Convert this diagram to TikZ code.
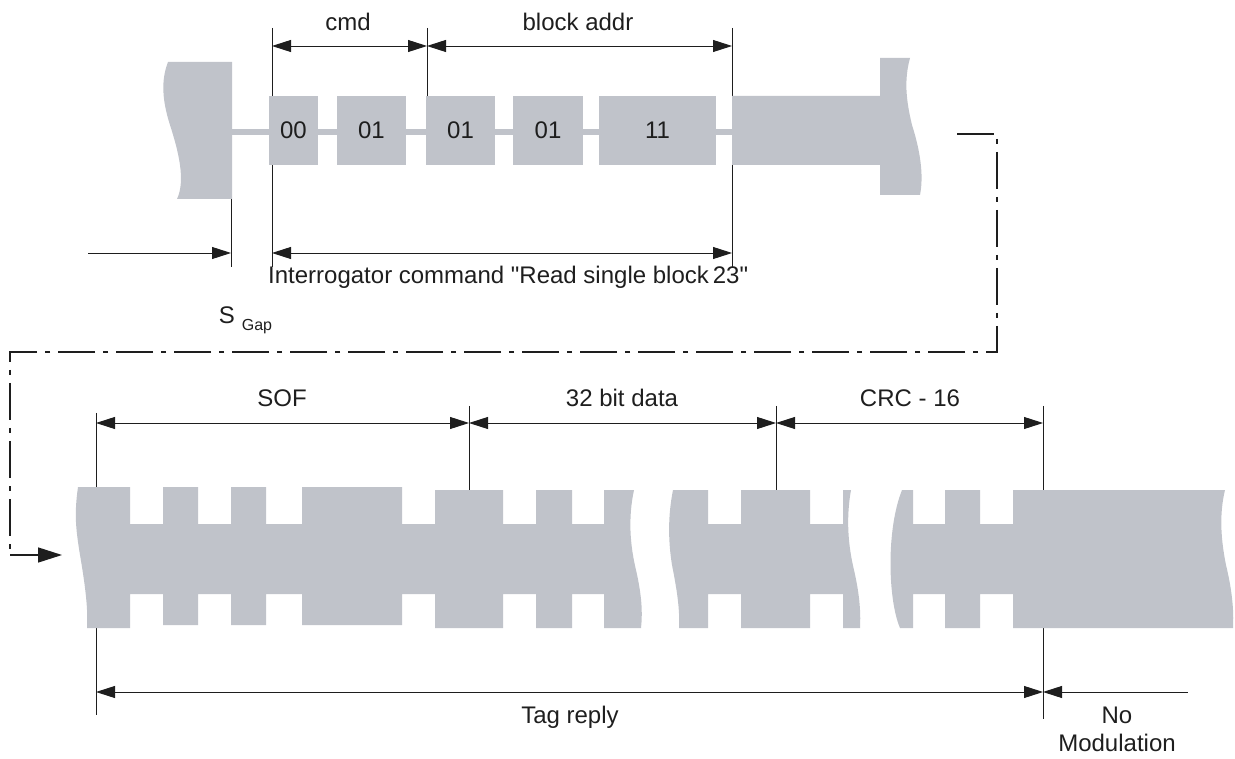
\documentclass[tikz,border=0pt]{standalone}
\usepackage{fontspec}
\setmainfont{Liberation Sans}[Ligatures=TeXOff]
\usetikzlibrary{arrows.meta}
\definecolor{sig}{RGB}{192,195,202}
\definecolor{ink}{RGB}{30,30,30}
\tikzset{
  tip/.tip={Triangle[length=19pt,width=12pt]},
  dimline/.style={line width=0.9pt, draw=ink},
  dimboth/.style={dimline, tip-tip},
  dimright/.style={dimline, -tip},
  dimleft/.style={dimline, tip-},
  flowline/.style={line width=1.5pt, draw=ink, dash pattern=on 37pt off 8pt on 5pt off 8pt},
  lbl/.style={font=\fontsize{24}{28}\selectfont, text=ink, inner sep=0pt},
  sublbl/.style={font=\fontsize{16}{19}\selectfont, text=ink, inner sep=0pt},
  bitbox/.style={fill=sig, draw=none, inner sep=0pt, font=\fontsize{24}{28}\selectfont, text=ink},
  sigfill/.style={fill=sig, draw=none}
}
\begin{document}
\begin{tikzpicture}[x=1pt,y=-1pt]
\useasboundingbox (0,0) rectangle (1235,759);

% ---------- coordinates for dimension lines (top) ----------
\coordinate (t1a) at (272,28);  \coordinate (t1b) at (272,267);
\coordinate (t2a) at (427,28);  \coordinate (t2b) at (427,96);
\coordinate (t3a) at (732,28);  \coordinate (t3b) at (732,267);
\coordinate (tga) at (231,199); \coordinate (tgb) at (231,267);
\coordinate (d1) at (272,46); \coordinate (d2) at (427,46); \coordinate (d3) at (732,46);
\coordinate (i1) at (272,253); \coordinate (i2) at (732,253);
\coordinate (g0) at (88,253); \coordinate (g1) at (231,253);

% ticks
\draw[dimline] (t1a) -- (t1b);
\draw[dimline] (t2a) -- (t2b);
\draw[dimline] (t3a) -- (t3b);
\draw[dimline] (tga) -- (tgb);

% arrows
\draw[dimboth] (d1) -- (d2);
\draw[dimboth] (d2) -- (d3);
\draw[dimboth] (i1) -- (i2);
\draw[dimright] (g0) -- (g1);

% labels
\node[lbl] (cmd) at (348,22) {cmd};
\node[lbl] (addr) at (578,22) {block addr};
\node[lbl, anchor=west] (ic) at (268,277) {Interrogator command "Read single block\,23"};
\node[lbl] (s) at (227,315) {S};
\node[sublbl] (gap) at (257,327) {Gap};

% ---------- top signal ----------
\fill[sigfill] (168,62) -- (232,62) -- (232,199) -- (177,199)
  .. controls (186,180) and (178,150) .. (170,125)
  .. controls (162,100) and (161,80) .. (168,62) -- cycle;
\fill[sigfill] (232,129) rectangle (732,135);
\node[bitbox, minimum width=49pt, minimum height=69pt] (b1) at (293.5,130.5) {00};
\node[bitbox, minimum width=69pt, minimum height=69pt] (b2) at (371.5,130.5) {01};
\node[bitbox, minimum width=69pt, minimum height=69pt] (b3) at (460.5,130.5) {01};
\node[bitbox, minimum width=70pt, minimum height=69pt] (b4) at (548,130.5) {01};
\node[bitbox, minimum width=117pt, minimum height=69pt] (b5) at (657.5,130.5) {11};
\fill[sigfill] (732,96) -- (880,96) -- (880,58) -- (910,58)
  .. controls (904,80) and (906,100) .. (912,125)
  .. controls (920,150) and (924,175) .. (920,195)
  -- (880,195) -- (880,165) -- (732,165) -- cycle;

% ---------- dash-dot flow ----------
\coordinate (f0) at (957,134);
\coordinate (f1) at (997,134);
\coordinate (f2) at (997,352);
\coordinate (f3) at (10,352);
\coordinate (f4) at (10,555);
\coordinate (f5) at (62,555);
\draw[flowline] (f0) -- (f1) -- (f2) -- (f3) -- (f4);
\draw[line width=1.5pt, draw=ink, -{Triangle[length=24pt,width=15pt]}] (f4) -- (f5);

% ---------- bottom dimension lines ----------
\coordinate (u1a) at (96,413);  \coordinate (u1b) at (96,715);
\coordinate (u2a) at (469,406); \coordinate (u2b) at (469,491);
\coordinate (u3a) at (776,406); \coordinate (u3b) at (776,491);
\coordinate (u4a) at (1043,406); \coordinate (u4b) at (1043,719);
\coordinate (e1) at (96,423); \coordinate (e2) at (469,423);
\coordinate (e3) at (776,423); \coordinate (e4) at (1043,423);
\coordinate (r1) at (96,692); \coordinate (r2) at (1043,692); \coordinate (r3) at (1188,692);

\draw[dimline] (u1a) -- (u1b);
\draw[dimline] (u2a) -- (u2b);
\draw[dimline] (u3a) -- (u3b);
\draw[dimline] (u4a) -- (u4b);
\draw[dimboth] (e1) -- (e2);
\draw[dimboth] (e2) -- (e3);
\draw[dimboth] (e3) -- (e4);
\draw[dimboth] (r1) -- (r2);
\draw[dimleft] (r2) -- (r3);

\node[lbl] (sof) at (282,398) {SOF};
\node[lbl] (data) at (622,398) {32 bit data};
\node[lbl] (crc) at (910,398) {CRC - 16};
\node[lbl] (tag) at (570,717) {Tag reply};
\node[lbl] (no) at (1117,715) {No};
\node[lbl] (mod) at (1117,743) {Modulation};

% ---------- bottom signal ----------
\fill[sigfill] (78,487) -- (130,487) -- (130,524) -- (163,524) -- (163,487) -- (198,487)
  -- (198,524) -- (231,524) -- (231,487) -- (266,487) -- (266,524) -- (302,524)
  -- (302,487) -- (402,487) -- (402,524) -- (435,524) -- (435,490) -- (503,490)
  -- (503,524) -- (536,524) -- (536,490) -- (572,490) -- (572,524) -- (604,524)
  -- (604,490) -- (634,490)
  .. controls (628,518) and (630,545) .. (636,570)
  .. controls (641,592) and (643,610) .. (641,628)
  -- (604,628) -- (604,594) -- (572,594) -- (572,628) -- (536,628) -- (536,594)
  -- (503,594) -- (503,628) -- (435,628) -- (435,594) -- (402,594) -- (402,625)
  -- (302,625) -- (302,594) -- (266,594) -- (266,625) -- (231,625) -- (231,594)
  -- (198,594) -- (198,625) -- (163,625) -- (163,594) -- (130,594) -- (130,628)
  -- (87,628)
  .. controls (88,610) and (86,590) .. (80,555)
  .. controls (76,530) and (74,515) .. (78,487) -- cycle;

\fill[sigfill] (673,490) -- (708,490) -- (708,524) -- (741,524) -- (741,490) -- (810,490)
  -- (810,524) -- (843,524) -- (843,490) -- (851,490)
  .. controls (846,518) and (848,545) .. (854,570)
  .. controls (859,592) and (861,610) .. (860,628)
  -- (843,628) -- (843,594) -- (810,594) -- (810,628) -- (741,628) -- (741,594)
  -- (708,594) -- (708,628) -- (679,628)
  .. controls (680,610) and (677,590) .. (672,565)
  .. controls (668,540) and (668,515) .. (673,490) -- cycle;

\fill[sigfill] (902,490) -- (913,490) -- (913,524) -- (945,524) -- (945,490) -- (980,490)
  -- (980,524) -- (1013,524) -- (1013,490) -- (1225,490)
  .. controls (1219,515) and (1221,540) .. (1226,565)
  .. controls (1232,590) and (1234,610) .. (1233,628)
  -- (1013,628) -- (1013,594) -- (980,594) -- (980,628) -- (945,628) -- (945,594)
  -- (913,594) -- (913,628) -- (900,628)
  .. controls (888,600) and (886,530) .. (902,490) -- cycle;

\end{tikzpicture}
\end{document}
